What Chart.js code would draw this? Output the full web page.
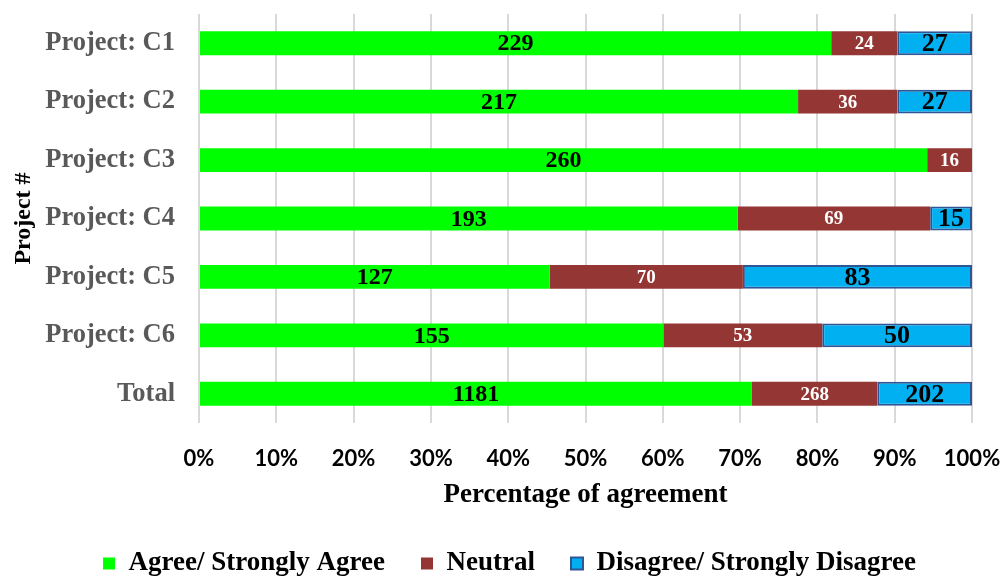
<!DOCTYPE html>
<html>
<head>
<meta charset="utf-8">
<script src="https://cdn.jsdelivr.net/npm/chart.js@4.4.0/dist/chart.umd.min.js"></script>
<style>
  html, body { margin: 0; padding: 0; background: #fff; }
</style>
</head>
<body>
<canvas id="chart" width="1000" height="577"></canvas>
<script>
// survey counts per project
const categories = ['Project: C1', 'Project: C2', 'Project: C3', 'Project: C4', 'Project: C5', 'Project: C6', 'Total'];
const agree = [229, 217, 260, 193, 127, 155, 1181];
const neutral = [24, 36, 16, 69, 70, 53, 268];
const disagree = [27, 27, 0, 15, 83, 50, 202];
const xTicks = [0, 10, 20, 30, 40, 50, 60, 70, 80, 90, 100];

const SERIF = "'Liberation Serif', 'Times New Roman', serif";

const totals = categories.map((c, i) => agree[i] + neutral[i] + disagree[i]);
function share(arr) {
    return arr.map((v, i) => v ? v / totals[i] * 100 : null);
}

// draws the raw count in the middle of each segment
const barLabels = {
    id: 'barLabels',
    afterDatasetsDraw(chart) {
        const ctx = chart.ctx;
        chart.data.datasets.forEach((ds, i) => {
            const meta = chart.getDatasetMeta(i);
            meta.data.forEach((bar, j) => {
                const n = ds.counts[j];
                if (!n) return;
                const p = bar.getProps(['x', 'y', 'base'], true);
                ctx.save();
                ctx.font = 'bold ' + ds.labelSize + 'px ' + SERIF;
                ctx.fillStyle = ds.labelColor;
                ctx.textAlign = 'center';
                ctx.textBaseline = 'middle';
                ctx.fillText(String(n), (p.x + p.base) / 2, p.y + 1);
                ctx.restore();
            });
        });
    }
};

new Chart(document.getElementById('chart'), {
    type: 'bar',
    data: {
        labels: categories,
        datasets: [
            {
                label: 'Agree/ Strongly Agree',
                data: share(agree),
                counts: agree,
                backgroundColor: '#00FF00',
                borderColor: '#00FF00',
                borderWidth: 0,
                labelColor: '#000000',
                labelSize: 24
            },
            {
                label: 'Neutral',
                data: share(neutral),
                counts: neutral,
                backgroundColor: '#943634',
                borderColor: '#943634',
                borderWidth: 0,
                labelColor: '#FFFFFF',
                labelSize: 19
            },
            {
                label: 'Disagree/ Strongly Disagree',
                data: share(disagree),
                counts: disagree,
                backgroundColor: '#00B0F0',
                borderColor: '#2F5597',
                borderWidth: 2,
                borderSkipped: false,
                labelColor: '#000000',
                labelSize: 26
            }
        ]
    },
    options: {
        indexAxis: 'y',
        responsive: false,
        animation: false,
        barPercentage: 0.51,
        categoryPercentage: 0.8,
        layout: { padding: { top: 14, right: 0, bottom: -10, left: 19 } },
        plugins: {
            legend: {
                position: 'bottom',
                labels: {
                    boxWidth: 12,
                    boxHeight: 12,
                    padding: 36,
                    color: '#000000',
                    font: { family: SERIF, size: 27, weight: 'bold' }
                }
            },
            tooltip: { enabled: false }
        },
        scales: {
            x: {
                stacked: true,
                min: 0,
                max: 100,
                afterBuildTicks(scale) {
                    scale.ticks = xTicks.map(v => ({ value: v }));
                },
                afterFit(scale) {
                    scale.height = 91;
                    scale.paddingLeft = 0;
                    scale.paddingRight = 28;
                },
                grid: { color: '#D9D9D9', lineWidth: 2, drawTicks: false },
                border: { display: false },
                ticks: {
                    padding: 23,
                    color: '#000000',
                    font: { family: 'Lato', size: 22, weight: 'bold' },
                    callback: v => v + '%'
                },
                title: {
                    display: true,
                    text: 'Percentage of agreement',
                    color: '#000000',
                    padding: { top: 0, bottom: 3 },
                    font: { family: SERIF, size: 27, weight: 'bold' }
                }
            },
            y: {
                stacked: true,
                afterFit(scale) {
                    scale.width = 180;
                    scale.paddingTop = 0;
                    scale.paddingBottom = 0;
                },
                grid: { display: false, drawTicks: false },
                border: { display: false },
                ticks: {
                    padding: 24,
                    color: '#595959',
                    font: { family: SERIF, size: 26.5, weight: 'bold' }
                },
                title: {
                    display: true,
                    text: 'Project #',
                    color: '#000000',
                    padding: { top: -10, bottom: 0 },
                    font: { family: SERIF, size: 24, weight: 'bold' }
                }
            }
        }
    },
    plugins: [barLabels]
});
</script>
</body>
</html>
